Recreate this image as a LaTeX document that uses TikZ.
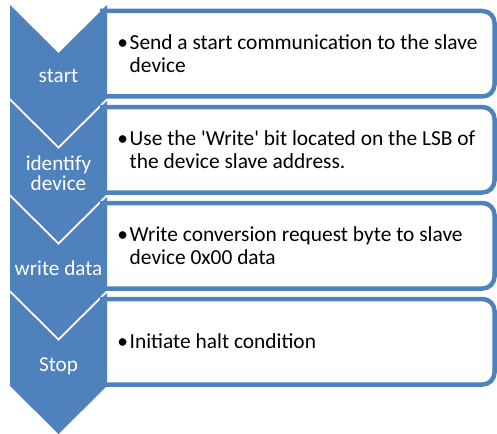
\documentclass[tikz,border=0pt]{standalone}
\usepackage{fontspec}
\setmainfont{Carlito}[Ligatures=TeXOff]
\definecolor{accent}{RGB}{79,129,189}
\begin{document}
\begin{tikzpicture}[x=1pt,y=-1pt,
  chev/.style={fill=accent},
  panel/.style={draw=accent,line width=4.5pt,rounded corners=12pt},
  steplabel/.style={text=white,font=\fontsize{21.2}{20}\selectfont,inner sep=0pt,anchor=base},
  body/.style={text=black,font=\fontsize{21.4}{23.4}\selectfont,inner sep=0pt,anchor=base west}]
\useasboundingbox (0,0) rectangle (497,433);
% four stages: a rounded panel on the right, a chevron on the left
\foreach \i in {0,1,2,3} {
  \pgfmathsetmacro\t{5+96*\i}
  \draw[panel] (100,\t+6) -- (494.5,\t+6) -- (494.5,\t+91.5) -- (100,\t+91.5);
  \fill[chev] (10,\t) -- (58.5,\t+48) -- (107,\t) -- (107,\t+93)
     -- (58.5,\t+141) -- (10,\t+93) -- cycle;
}
% chevron captions
\node[steplabel] (s1) at (58.5,82.7) {\begin{tabular}[t]{@{}c@{}}start\end{tabular}};
\node[steplabel] (s2) at (58.5,170) {\begin{tabular}[t]{@{}c@{}}identify\\device\end{tabular}};
\node[steplabel] (s3) at (58.5,275) {\begin{tabular}[t]{@{}c@{}}write data\end{tabular}};
\node[steplabel] (s4) at (58.5,371.7) {\begin{tabular}[t]{@{}c@{}}Stop\end{tabular}};
% bullet texts
\node[body] (b1) at (116.5,49.3) {\begin{tabular}[t]{@{}l@{}}\makebox[12pt][c]{•}\hspace{1pt}Send a start communication to the slave\\\hspace*{13pt}device\end{tabular}};
\node[body] (b2) at (116.5,145.3) {\begin{tabular}[t]{@{}l@{}}\makebox[12pt][c]{•}\hspace{1pt}Use the 'Write' bit located on the LSB of\\\hspace*{13pt}the device slave address.\end{tabular}};
\node[body] (b3) at (116.5,241) {\begin{tabular}[t]{@{}l@{}}\makebox[12pt][c]{•}\hspace{1pt}Write conversion request byte to slave\\\hspace*{13pt}device 0x00 data\end{tabular}};
\node[body] (b4) at (116.5,348.3) {\begin{tabular}[t]{@{}l@{}}\makebox[12pt][c]{•}\hspace{1pt}Initiate halt condition\end{tabular}};
\end{tikzpicture}
\end{document}
